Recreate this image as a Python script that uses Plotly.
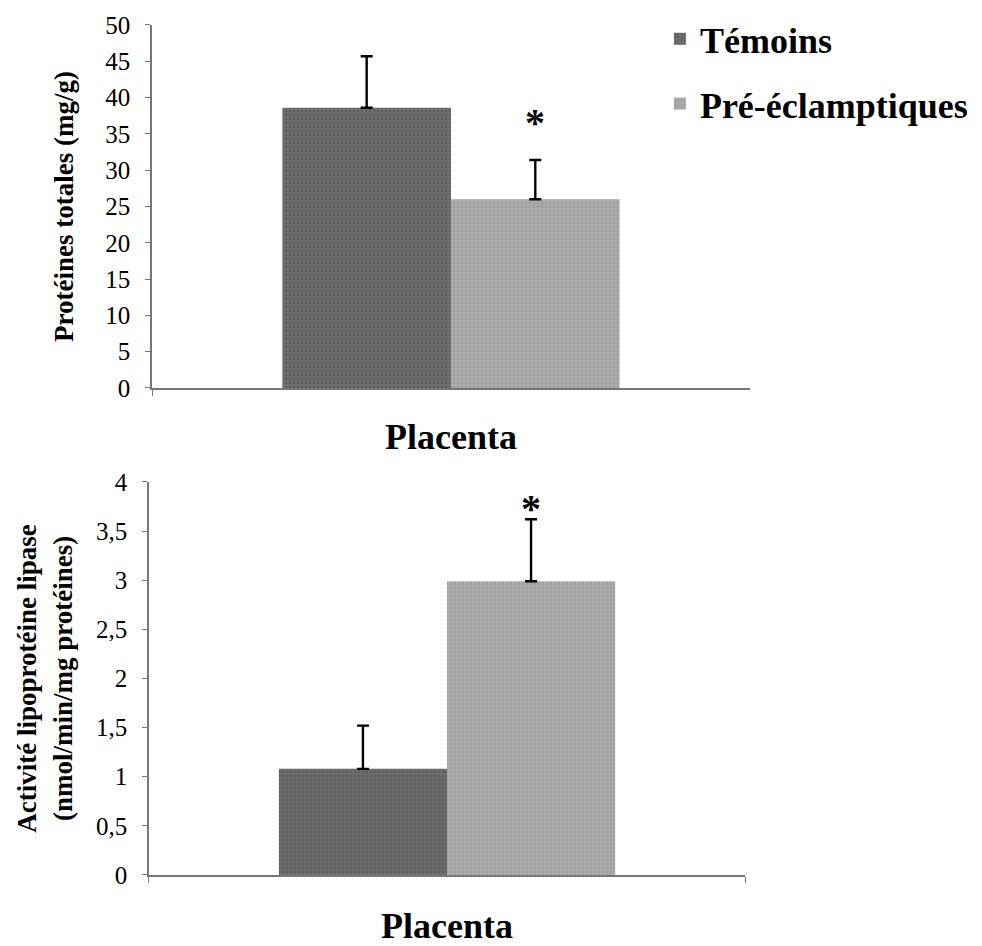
import plotly.graph_objects as go

# ---------------- data ----------------
category = ["Placenta"]
groups = ["Témoins", "Pré-éclamptiques"]

prot_values = [38.6, 26.0]
prot_err = [7.1, 5.4]
prot_star = 36.5

lpl_values = [1.08, 2.99]
lpl_err = [0.44, 0.63]
lpl_star = 3.73

y1_ticks = [0, 5, 10, 15, 20, 25, 30, 35, 40, 45, 50]
y2_ticks = [0, 0.5, 1, 1.5, 2, 2.5, 3, 3.5, 4]

colors = ["#6d6d6d", "#ababab"]
pattern_fg = ["#4a4a4a", "#8a8a8a"]

FONT = "Liberation Serif"

fig = go.Figure()

for i, g in enumerate(groups):
    fig.add_trace(go.Bar(
        x=category, y=[prot_values[i]], name=g,
        legendgroup=g,
        marker=dict(color=colors[i], line=dict(width=0),
                    pattern=dict(shape=".", fgcolor=pattern_fg[i], size=4, solidity=0.25)),
        error_y=dict(type="data", array=[prot_err[i]], arrayminus=[0], symmetric=False,
                     color="black", thickness=2.4, width=6),
        xaxis="x", yaxis="y",
    ))
for i, g in enumerate(groups):
    fig.add_trace(go.Bar(
        x=category, y=[lpl_values[i]], name=g,
        legendgroup=g, showlegend=False,
        marker=dict(color=colors[i], line=dict(width=0),
                    pattern=dict(shape=".", fgcolor=pattern_fg[i], size=4, solidity=0.25)),
        error_y=dict(type="data", array=[lpl_err[i]], arrayminus=[0], symmetric=False,
                     color="black", thickness=2.4, width=6),
        xaxis="x2", yaxis="y2",
    ))

axis_common = dict(showline=True, linecolor="#777777", linewidth=1.5, mirror=False,
                   showgrid=False, zeroline=False, automargin=False)

fig.update_layout(
    width=982, height=946,
    margin=dict(l=0, r=0, t=0, b=0, autoexpand=False),
    paper_bgcolor="white", plot_bgcolor="white",
    separators=", ",
    barmode="group", bargap=0.436, bargroupgap=0,
    font=dict(family=FONT, color="black"),
    xaxis=dict(domain=[0.1548, 0.7637], anchor="y", showticklabels=False,
               ticks="outside", tickson="boundaries", ticklen=6, tickcolor="#777777",
               title=dict(text="<b>Placenta</b>", font=dict(size=36, family=FONT), standoff=35),
               **axis_common),
    yaxis=dict(domain=[0.5899, 0.9736], anchor="x", range=[0, 50], tickvals=y1_ticks,
               ticks="outside", ticklen=5, tickcolor="#777777",
               tickfont=dict(size=25, family=FONT), ticklabelstandoff=10,
               title=dict(text="<b>Protéines totales (mg/g)</b>", font=dict(size=27, family=FONT),
                          standoff=24),
               **axis_common),
    xaxis2=dict(domain=[0.1517, 0.7587], anchor="y2", showticklabels=False,
                ticks="outside", tickson="boundaries", ticklen=6, tickcolor="#777777",
                title=dict(text="<b>Placenta</b>", font=dict(size=36, family=FONT), standoff=40),
                **axis_common),
    yaxis2=dict(domain=[0.0751, 0.4905], anchor="x2", range=[0, 4], tickvals=y2_ticks,
                ticks="outside", ticklen=5, tickcolor="#777777",
                tickfont=dict(size=25, family=FONT), ticklabelstandoff=10,
                title=dict(text="<b>Activité lipoprotéine lipase<br>(nmol/min/mg protéines)</b>",
                           font=dict(size=27, family=FONT), standoff=16),
                **axis_common),
    legend=dict(x=0.672, y=0.9906, xanchor="left", yanchor="top",
                font=dict(size=36, family=FONT, weight="bold"), traceorder="grouped",
                tracegroupgap=15, itemsizing="constant", itemwidth=30,
                bgcolor="rgba(0,0,0,0)"),
    showlegend=True,
)

# significance asterisks above the pre-eclamptic bars
fig.add_annotation(x=category[0], y=prot_star, xref="x", yref="y", text="<b>*</b>",
                   showarrow=False, xshift=84, font=dict(size=40, family=FONT))
fig.add_annotation(x=category[0], y=lpl_star, xref="x2", yref="y2", text="<b>*</b>",
                   showarrow=False, xshift=84, font=dict(size=40, family=FONT))

fig.write_html("out.html")
